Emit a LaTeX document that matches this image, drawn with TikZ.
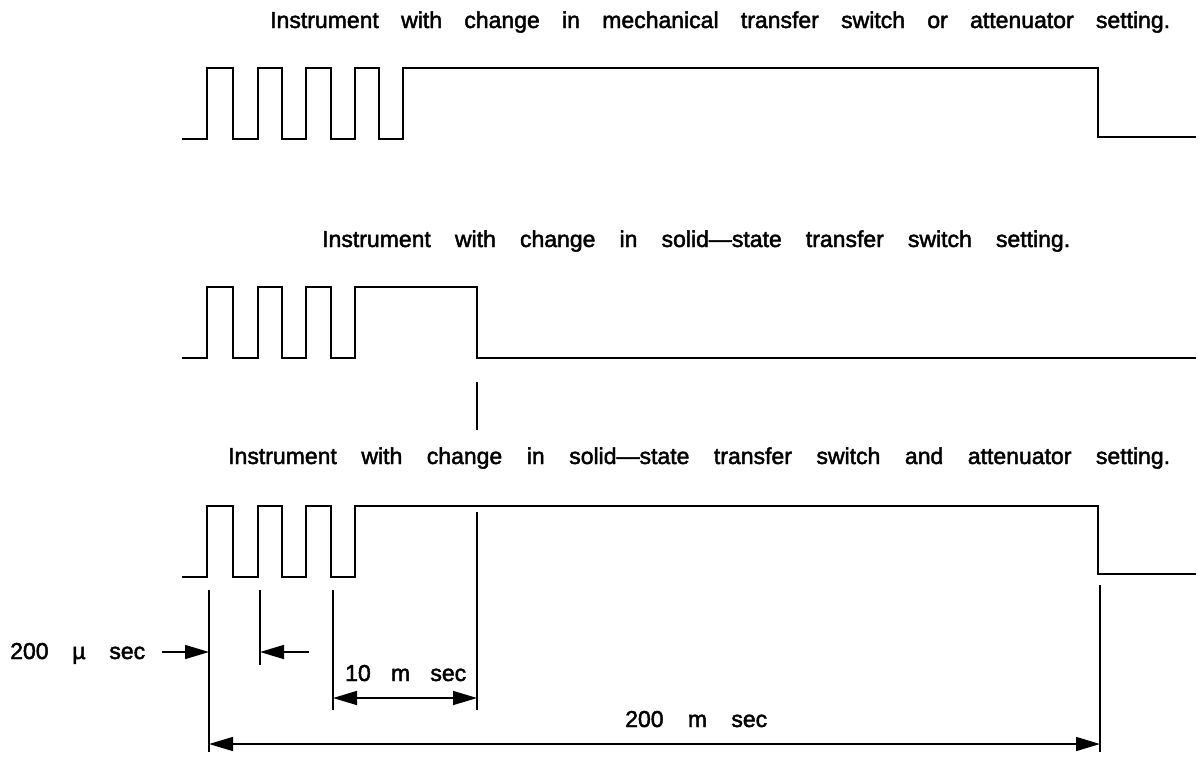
\documentclass[tikz,border=0pt]{standalone}
\usepackage{fontspec}
\setmainfont{Liberation Sans}
\newfontfamily\dfont{Liberation Sans}[FakeBold=2,Ligatures=TeX]
\usetikzlibrary{arrows.meta}
\begin{document}
\begin{tikzpicture}[x=1pt,y=-1pt,
  wave/.style={line width=2.8pt,line join=miter,line cap=rect},
  ext/.style={line width=1.5pt},
  dim/.style={line width=1.5pt},
  tip/.style={-{Triangle[length=24pt,width=14pt]}},
  tiptwo/.style={{Triangle[length=24pt,width=14pt]}-{Triangle[length=24pt,width=14pt]}},
  title/.style={anchor=base west,inner sep=0pt,font=\dfont\fontsize{23}{25}\selectfont},
  lab/.style={anchor=base west,inner sep=0pt,font=\dfont\fontsize{23}{25}\selectfont}]
\useasboundingbox (0,0) rectangle (1201,756);
% titles
\node[title] (t1) at (270,28) {\makebox[900pt][s]{Instrument with change in mechanical transfer switch or attenuator setting.}};
\node[title] (t2) at (322,247) {\makebox[748pt][s]{Instrument with change in solid—state transfer switch setting.}};
\node[title] (t3) at (228,464) {\makebox[942pt][s]{Instrument with change in solid—state transfer switch and attenuator setting.}};
% waveform 1
\draw[wave] (183,139) -- (207,139) -- (207,68) -- (233,68) -- (233,139) -- (258,139) -- (258,68) -- (282,68) -- (282,139) -- (306,139) -- (306,68) -- (331,68) -- (331,139) -- (355,139) -- (355,68) -- (379,68) -- (379,139) -- (403,139) -- (403,68) -- (1098,68) -- (1098,137) -- (1195,137);
% waveform 2
\draw[wave] (183,358) -- (207,358) -- (207,287) -- (233,287) -- (233,358) -- (258,358) -- (258,287) -- (282,287) -- (282,358) -- (306,358) -- (306,287) -- (331,287) -- (331,358) -- (355,358) -- (355,287) -- (477,287) -- (477,358) -- (1195,358);
% waveform 3
\draw[wave] (183,577) -- (207,577) -- (207,506) -- (233,506) -- (233,577) -- (258,577) -- (258,506) -- (282,506) -- (282,577) -- (306,577) -- (306,506) -- (331,506) -- (331,577) -- (355,577) -- (355,506) -- (1098,506) -- (1098,574) -- (1195,574);
% tick
\coordinate (k1) at (477,382); \coordinate (k2) at (477,430);
\draw[ext] (k1) -- (k2);
% extension lines
\coordinate (a1) at (209,590); \coordinate (a2) at (209,752);
\coordinate (b1) at (260,590); \coordinate (b2) at (260,665);
\coordinate (c1) at (333,590); \coordinate (c2) at (333,710);
\coordinate (d1) at (477,512); \coordinate (d2) at (477,710);
\coordinate (e1) at (1100,585); \coordinate (e2) at (1100,752);
\draw[ext] (a1) -- (a2);
\draw[ext] (b1) -- (b2);
\draw[ext] (c1) -- (c2);
\draw[ext] (d1) -- (d2);
\draw[ext] (e1) -- (e2);
% 200 usec arrows
\coordinate (p1) at (162,652); \coordinate (p2) at (209,652);
\coordinate (q1) at (309,652); \coordinate (q2) at (260,652);
\draw[dim,tip] (p1) -- (p2);
\draw[dim,tip] (q1) -- (q2);
\node[lab] (l1) at (10,659) {\makebox[135pt][s]{200 µ sec}};
% 10 msec
\coordinate (r1) at (333,698); \coordinate (r2) at (477,698);
\draw[dim,tiptwo] (r1) -- (r2);
\node[lab] (l2) at (345,681) {\makebox[121pt][s]{10 m sec}};
% 200 msec
\coordinate (s1) at (209,744); \coordinate (s2) at (1100,744);
\draw[dim,tiptwo] (s1) -- (s2);
\node[lab] (l3) at (625,727) {\makebox[142pt][s]{200 m sec}};
\end{tikzpicture}
\end{document}
